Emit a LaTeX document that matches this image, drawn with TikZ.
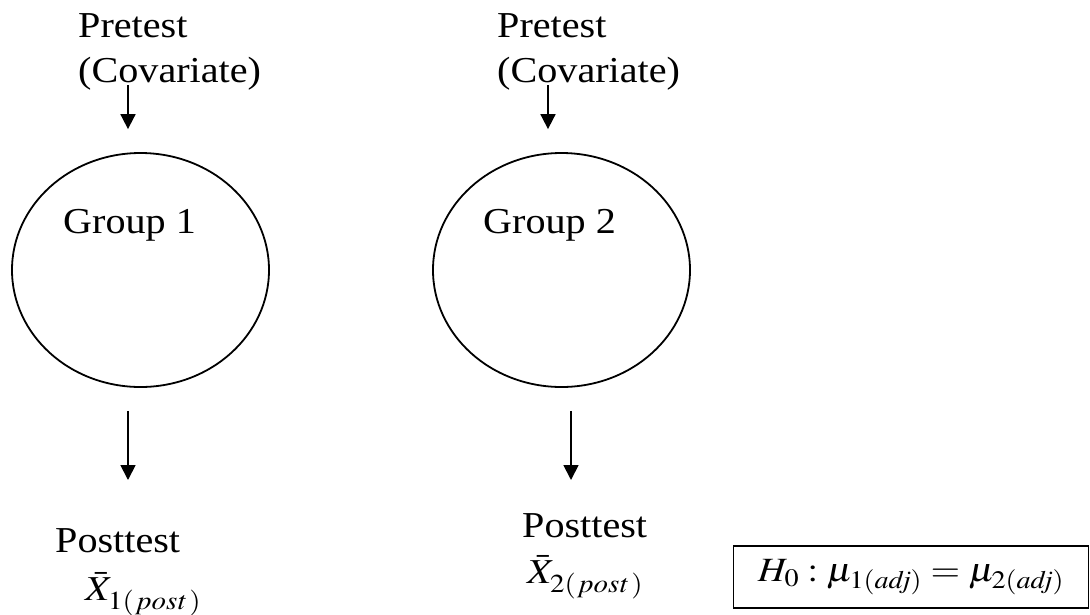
\documentclass[tikz,border=0pt]{standalone}
\usepackage{graphicx}
\usepackage{mathptmx}
\usepackage[no-math]{fontspec}
\setmainfont{Liberation Serif}[FakeStretch=1.1]
\usetikzlibrary{arrows.meta,shapes.geometric}
\newcommand{\wide}[1]{\scalebox{1.12}[1]{#1}}

\begin{document}
\begin{tikzpicture}[x=1pt, y=-1pt,
    txt/.style={inner sep=0pt, align=left, anchor=base west, font=\fontsize{36.5}{45}\selectfont},
    mth/.style={txt, font=\fontsize{35}{40}\selectfont},
    grp/.style={draw, ellipse, line width=1.8pt, minimum width=257pt, minimum height=234pt, inner sep=0pt},
    hyp/.style={draw, line width=1.8pt, minimum width=355pt, minimum height=62pt, inner sep=0pt, font=\fontsize{34}{40}\selectfont},
    flow/.style={-{Triangle[length=15pt,width=15pt]}, line width=1.8pt}]
  \useasboundingbox (0,0) rectangle (1090,614);
  % groups
  \node[grp] (g1) at (140.5,270) {};
  \node[grp] (g2) at (561.5,270) {};
  \node[txt] (lab1) at (63,233) {Group 1};
  \node[txt] (lab2) at (483,233) {Group 2};
  % covariate
  \node[txt] (pre1) at (78,82) {Pretest\\(Covariate)};
  \node[txt] (pre2) at (497,82) {Pretest\\(Covariate)};
  \coordinate (in1) at (128,85);
  \coordinate (in2) at (548,85);
  \draw[flow, shorten >=23pt] (in1) -- (in1 |- g1.north);
  \draw[flow, shorten >=23pt] (in2) -- (in2 |- g2.north);
  % outcome
  \node[txt] (post1) at (55,552) {Posttest};
  \node[mth] (xb1) at (85,600) {\wide{$\bar{X}_{\raisebox{-4pt}{$\scriptstyle 1(\,\mathit{post}\,)$}}$}};
  \node[txt] (post2) at (522,537) {Posttest};
  \node[mth] (xb2) at (527,583) {\wide{$\bar{X}_{\raisebox{-4pt}{$\scriptstyle 2(\,\mathit{post}\,)$}}$}};
  \coordinate (out1) at (128,480);
  \coordinate (out2) at (571,480);
  \draw[flow, shorten <=23pt] (out1 |- g1.south) -- (out1);
  \draw[flow, shorten <=23pt] (out2 |- g2.south) -- (out2);
  % hypothesis
  \node[hyp] (h0) at (911,577) {\wide{$H_0:\mu_{1(\mathit{adj})}=\mu_{2(\mathit{adj})}$}};
\end{tikzpicture}
\end{document}
